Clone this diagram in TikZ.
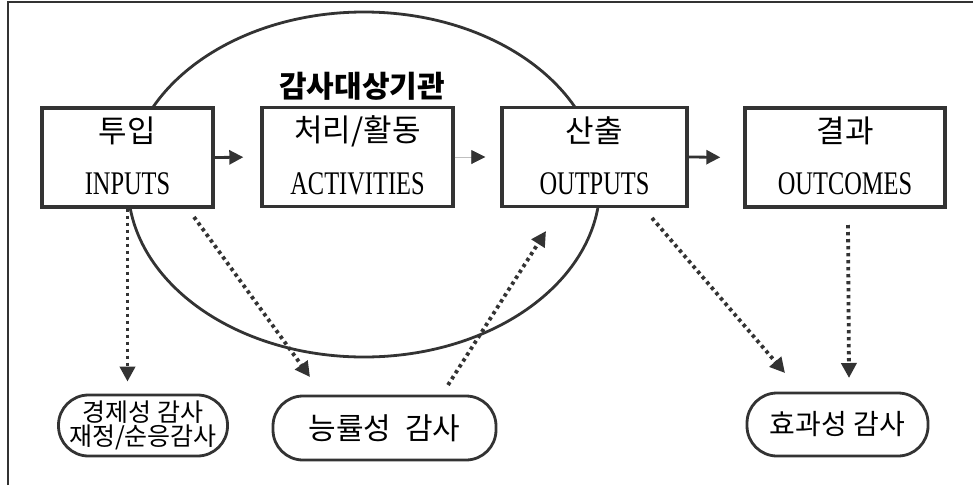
\documentclass[tikz,border=0pt]{standalone}
\usepackage{fontspec}
\usetikzlibrary{arrows.meta}
\newfontfamily\kr{Noto Sans CJK KR}
\newfontfamily\lat[FakeStretch=0.74]{Liberation Serif}
\definecolor{ink}{HTML}{333333}
\tikzset{
  box/.style={draw=ink, line width=3.4pt, fill=white, minimum width=#1, minimum height=99pt, inner sep=0pt},
  lbl/.style={inner sep=0pt},
  pill/.style={draw=ink, line width=2.8pt, fill=white, rounded corners=30pt, minimum width=#1, minimum height=62pt, inner sep=0pt, align=center},
  dots/.style={ink, line width=3.8pt, dash pattern=on 3.4pt off 3.6pt, -{Triangle[length=15pt,width=15pt]}},
  solidarr/.style={ink, line width=2.8pt, -{Triangle[length=14pt,width=14pt]}},
  thinarr/.style={line width=0.8pt, draw=gray!50, -{Triangle[length=14pt,width=14pt,color=ink]}},
  kor/.style={lbl, font=\kr\fontsize{31}{32}\selectfont},
  eng/.style={lbl, font=\lat\fontsize{33}{34}\selectfont},
}
\begin{document}
\begin{tikzpicture}[x=1pt,y=-1pt]
\useasboundingbox (0,0) rectangle (973,485);
\draw[ink, line width=1.8pt] (8,485) -- (8,2) -- (973,2);
\draw[ink, line width=2.8pt] (364,184.5) ellipse [x radius=236, y radius=172.5];
\node[box=171pt] (in) at (127.5,157.5) {};
\node[box=191pt] (act) at (357.5,157) {};
\node[box=185pt] (out) at (594.5,157) {};
\node[box=200pt] (res) at (845,157.5) {};
\node[kor] (inK) at (127.5,131) {투입};
\node[eng] (inE) at (127.5,184) {INPUTS};
\node[kor] (actK) at (357.5,131) {처리/활동};
\node[eng] (actE) at (357.5,184) {ACTIVITIES};
\node[kor] (outK) at (594.5,131) {산출};
\node[eng] (outE) at (594.5,184) {OUTPUTS};
\node[kor] (resK) at (845,131) {결과};
\node[eng] (resE) at (845,184) {OUTCOMES};
\node[font=\kr\bfseries\fontsize{30}{31}\selectfont, inner sep=0pt] (title) at (362,86) {감사대상기관};
\node[pill=169pt, minimum height=61pt, font=\kr\fontsize{25}{22}\selectfont] (eco) at (143,425.5) {경제성 감사\\재정/순응감사};
\node[pill=223pt, minimum height=64pt, font=\kr\fontsize{30}{31}\selectfont] (eff) at (384.5,428) {능률성\ \ 감사};
\node[pill=181pt, minimum height=63pt, font=\kr\fontsize{28}{29}\selectfont] (efc) at (837.5,424.5) {효과성 감사};
\draw[solidarr, shorten >=17pt] (in.east) -- (act.west);
\draw[thinarr, shorten >=15pt] (act.east) -- (out.west);
\draw[solidarr, shorten >=23pt] (out.east) -- (res.west);
\coordinate (d2s) at (194,217);
\coordinate (d2e) at (310,377);
\coordinate (d3s) at (448,385);
\coordinate (d3e) at (546,231);
\coordinate (d4s) at (652,218);
\coordinate (d4e) at (785,373);
\coordinate (d5s) at (848,225);
\coordinate (d5e) at (849,378);
\draw[dots, shorten >=12pt] (in.south) -- (in.south |- eco.north);
\draw[dots] (d2s) -- (d2e);
\draw[dots] (d3s) -- (d3e);
\draw[dots] (d4s) -- (d4e);
\draw[dots] (d5s) -- (d5e);
\end{tikzpicture}
\end{document}
